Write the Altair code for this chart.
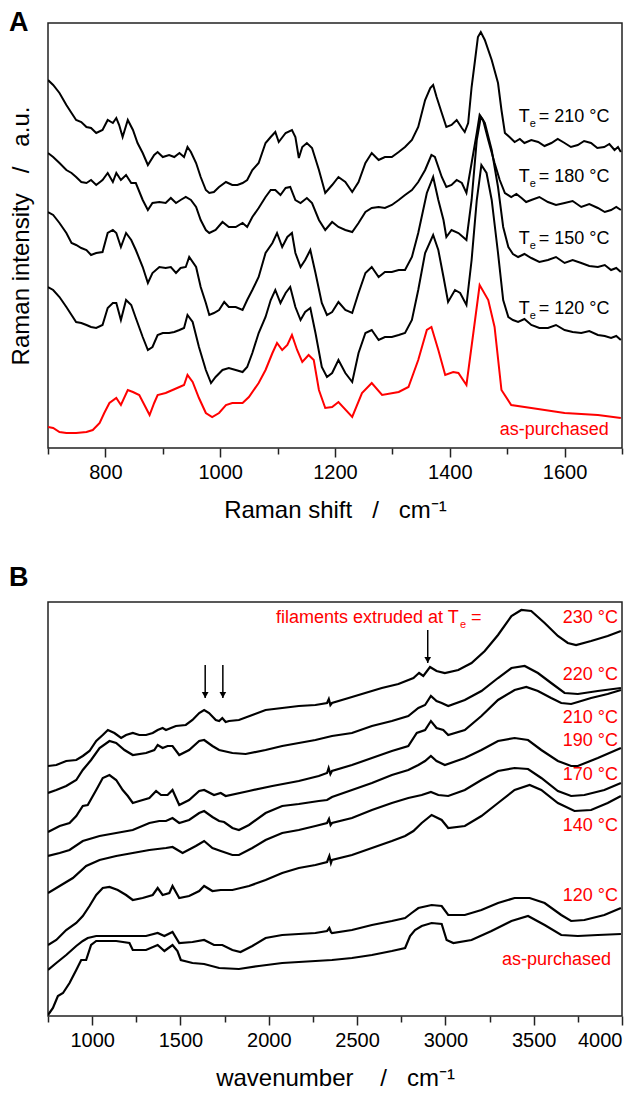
import altair as alt
import pandas as pd

FONT = "Liberation Sans"
RED = "#ff0000"

# ---------------- Panel A: Raman spectra (x = Raman shift, y = intensity a.u.) ----------------
raman_210 = [(700, 368), (709, 363), (720, 355), (732, 343), (741, 335), (749, 328), (758, 326), (767, 321),
             (775, 320), (784, 315), (795, 318), (804, 328), (813, 325), (819, 330), (824, 323), (830, 311),
             (839, 328), (848, 318), (856, 305), (865, 295), (874, 283), (885, 293), (891, 296), (900, 291),
             (911, 293), (920, 291), (929, 295), (937, 291), (943, 301), (949, 296), (958, 285), (966, 271),
             (975, 258), (981, 255), (989, 256), (998, 261), (1010, 266), (1021, 263), (1030, 263), (1039, 265),
             (1047, 268), (1056, 278), (1067, 285), (1079, 305), (1088, 311), (1096, 316), (1102, 306), (1114, 315),
             (1125, 318), (1131, 311), (1137, 290), (1143, 301), (1151, 305), (1160, 300), (1172, 278), (1183, 255),
             (1195, 263), (1206, 271), (1218, 266), (1230, 256), (1241, 266), (1253, 285), (1264, 295), (1276, 288),
             (1287, 291), (1299, 291), (1311, 296), (1322, 301), (1334, 308), (1345, 321), (1357, 348), (1366, 360),
             (1371, 363), (1377, 351), (1386, 335), (1394, 321), (1403, 323), (1412, 328), (1421, 320), (1426, 316),
             (1432, 325), (1438, 361), (1444, 388), (1449, 411), (1454, 416), (1461, 408), (1473, 388), (1484, 365),
             (1490, 338), (1496, 315), (1504, 311), (1513, 306), (1522, 309), (1530, 305), (1542, 308), (1554, 306),
             (1565, 302), (1577, 305), (1588, 309), (1600, 305), (1611, 301), (1623, 303), (1634, 307), (1646, 305),
             (1657, 300), (1669, 301), (1678, 304), (1687, 298), (1693, 301), (1698, 296)]
raman_180 = [(700, 295), (709, 291), (720, 285), (732, 278), (741, 275), (749, 271), (758, 266), (767, 265),
             (775, 268), (784, 263), (795, 268), (804, 275), (813, 266), (819, 275), (827, 268), (836, 273),
             (845, 265), (853, 265), (865, 248), (874, 238), (882, 245), (894, 246), (905, 245), (914, 250),
             (923, 245), (931, 248), (940, 251), (949, 248), (958, 241), (966, 228), (975, 218), (981, 215),
             (992, 218), (1004, 226), (1015, 221), (1027, 221), (1039, 225), (1047, 221), (1056, 231), (1067, 240),
             (1079, 251), (1088, 258), (1096, 258), (1105, 253), (1114, 260), (1122, 261), (1131, 248), (1140, 245),
             (1151, 250), (1160, 245), (1172, 228), (1183, 218), (1195, 226), (1206, 221), (1218, 218), (1230, 216),
             (1241, 225), (1253, 236), (1264, 240), (1276, 241), (1287, 240), (1299, 243), (1311, 248), (1322, 253),
             (1334, 258), (1345, 266), (1357, 278), (1368, 293), (1374, 291), (1386, 271), (1394, 261), (1403, 263),
             (1412, 268), (1421, 265), (1429, 255), (1438, 285), (1447, 315), (1452, 333), (1458, 328), (1467, 308),
             (1478, 285), (1487, 268), (1496, 255), (1507, 251), (1516, 254), (1525, 250), (1533, 246), (1542, 248),
             (1556, 251), (1571, 246), (1585, 243), (1600, 245), (1614, 247), (1629, 241), (1643, 244), (1658, 240),
             (1670, 236), (1681, 238), (1690, 241), (1698, 238)]
raman_150 = [(700, 236), (709, 233), (720, 225), (732, 215), (741, 205), (749, 203), (758, 200), (767, 198),
             (775, 193), (784, 195), (795, 196), (804, 215), (813, 218), (819, 215), (827, 201), (836, 215),
             (845, 208), (853, 198), (865, 181), (874, 165), (882, 175), (894, 181), (905, 180), (914, 181),
             (923, 175), (931, 180), (940, 181), (946, 191), (958, 181), (966, 161), (975, 145), (981, 133),
             (989, 135), (998, 138), (1007, 146), (1015, 141), (1027, 141), (1039, 138), (1047, 148), (1056, 158),
             (1067, 171), (1079, 195), (1091, 205), (1099, 215), (1108, 201), (1117, 211), (1125, 215), (1131, 195),
             (1140, 181), (1148, 188), (1157, 198), (1166, 175), (1177, 145), (1186, 133), (1195, 136), (1206, 146),
             (1218, 138), (1230, 135), (1241, 155), (1253, 175), (1264, 181), (1276, 171), (1287, 176), (1299, 176),
             (1311, 178), (1322, 178), (1334, 191), (1345, 215), (1360, 255), (1371, 271), (1380, 248), (1389, 228),
             (1394, 211), (1403, 218), (1415, 215), (1423, 211), (1429, 208), (1438, 248), (1447, 308), (1454, 331),
             (1461, 325), (1473, 298), (1484, 261), (1493, 221), (1502, 201), (1510, 194), (1519, 191), (1530, 194),
             (1542, 190), (1556, 186), (1571, 188), (1585, 191), (1600, 185), (1614, 188), (1629, 185), (1643, 182),
             (1658, 181), (1670, 183), (1681, 178), (1690, 180), (1698, 176)]
raman_120 = [(700, 161), (709, 158), (720, 151), (732, 141), (741, 133), (749, 126), (758, 125), (767, 123),
             (775, 121), (784, 120), (795, 123), (804, 140), (813, 145), (819, 145), (827, 128), (836, 148),
             (845, 143), (853, 130), (865, 111), (874, 98), (882, 101), (891, 113), (900, 115), (911, 115),
             (920, 116), (929, 118), (937, 120), (943, 133), (952, 126), (963, 101), (975, 78), (984, 65),
             (992, 71), (1004, 78), (1015, 80), (1027, 78), (1039, 76), (1047, 81), (1056, 95), (1067, 115),
             (1079, 131), (1088, 148), (1096, 158), (1105, 145), (1114, 155), (1122, 161), (1131, 141), (1140, 128),
             (1148, 136), (1157, 140), (1166, 115), (1177, 81), (1186, 71), (1195, 75), (1206, 88), (1218, 75),
             (1230, 66), (1241, 95), (1253, 115), (1264, 118), (1276, 108), (1287, 111), (1299, 111), (1311, 113),
             (1322, 115), (1334, 128), (1345, 158), (1357, 195), (1371, 213), (1380, 198), (1389, 171), (1397, 146),
             (1409, 158), (1418, 155), (1429, 143), (1438, 188), (1447, 248), (1455, 283), (1464, 275), (1473, 248),
             (1484, 195), (1493, 148), (1502, 131), (1510, 128), (1519, 126), (1530, 129), (1542, 123), (1556, 120),
             (1571, 120), (1585, 123), (1600, 118), (1614, 116), (1629, 115), (1643, 117), (1658, 113), (1670, 112),
             (1681, 110), (1690, 112), (1698, 108)]
raman_asp = [(700, 21), (709, 20), (720, 16), (732, 15), (749, 15), (767, 16), (778, 18), (790, 25), (798, 35),
             (807, 45), (819, 50), (827, 43), (839, 58), (848, 56), (859, 53), (868, 43), (877, 33), (885, 45),
             (891, 53), (905, 55), (917, 58), (929, 61), (937, 63), (943, 73), (952, 66), (963, 50), (975, 35),
             (986, 31), (998, 35), (1010, 43), (1021, 45), (1039, 45), (1050, 51), (1067, 65), (1079, 78),
             (1091, 95), (1099, 105), (1108, 98), (1117, 103), (1125, 113), (1134, 98), (1143, 86), (1154, 93),
             (1163, 88), (1172, 58), (1183, 40), (1195, 41), (1206, 46), (1230, 31), (1247, 55), (1264, 65),
             (1282, 53), (1311, 56), (1328, 61), (1345, 88), (1360, 118), (1368, 121), (1380, 98), (1392, 73),
             (1406, 76), (1415, 75), (1429, 63), (1441, 115), (1452, 163), (1467, 148), (1478, 121), (1490, 58),
             (1507, 43), (1542, 40), (1600, 35), (1658, 33), (1698, 30)]

raman_names = ["210", "180", "150", "120", "as-purchased"]
raman_colors = ["black", "black", "black", "black", RED]
raman_label_temps = ["210", "180", "150", "120"]
raman_label_y = [331, 271, 209, 139]

# ---------------- Panel B: IR spectra (x = wavenumber, y = absorbance a.u.) ----------------
ir_230 = [(750, 250), (797, 251), (853, 255), (910, 256), (947, 260), (985, 265), (1023, 275), (1060, 281),
          (1089, 286), (1126, 283), (1164, 278), (1192, 281), (1230, 283), (1267, 281), (1305, 281), (1343, 283),
          (1371, 286), (1399, 288), (1418, 286), (1446, 288), (1474, 290), (1530, 291), (1568, 296), (1606, 303),
          (1634, 306), (1662, 303), (1700, 296), (1719, 295), (1737, 298), (1756, 294), (1775, 295), (1831, 296),
          (1907, 301), (1982, 306), (2076, 308), (2170, 310), (2264, 311), (2330, 313), (2340, 317), (2349, 311),
          (2358, 313), (2452, 318), (2546, 323), (2640, 328), (2734, 332), (2819, 338), (2838, 341), (2851, 343),
          (2875, 340), (2913, 349), (2950, 345), (2997, 343), (3073, 346), (3148, 353), (3223, 365), (3298, 381),
          (3374, 400), (3430, 406), (3486, 405), (3562, 393), (3637, 380), (3693, 373), (3740, 371), (3825, 375),
          (3919, 380), (3994, 385)]
ir_220 = [(750, 223), (797, 226), (853, 230), (910, 236), (947, 246), (994, 256), (1042, 268), (1098, 275),
          (1136, 273), (1183, 266), (1230, 261), (1305, 263), (1352, 266), (1371, 271), (1399, 268), (1427, 270),
          (1455, 270), (1493, 261), (1549, 266), (1606, 275), (1634, 276), (1681, 270), (1719, 266), (1794, 263),
          (1869, 262), (1982, 266), (2076, 270), (2170, 273), (2264, 276), (2358, 280), (2471, 283), (2584, 290),
          (2697, 295), (2790, 300), (2847, 308), (2885, 311), (2918, 320), (2950, 315), (2979, 313), (3016, 310),
          (3110, 316), (3204, 325), (3298, 338), (3374, 348), (3449, 350), (3524, 343), (3599, 333), (3675, 323),
          (3750, 322), (3863, 325), (3994, 328)]
ir_210 = [(750, 184), (816, 190), (872, 193), (910, 200), (947, 210), (975, 211), (1023, 226), (1060, 238),
          (1098, 241), (1136, 236), (1173, 226), (1202, 220), (1230, 213), (1267, 215), (1324, 218), (1362, 225),
          (1390, 221), (1427, 221), (1455, 226), (1493, 211), (1549, 216), (1606, 225), (1634, 226), (1690, 221),
          (1728, 223), (1756, 220), (1888, 225), (2020, 230), (2170, 235), (2283, 240), (2330, 243), (2339, 248),
          (2349, 242), (2358, 245), (2471, 251), (2584, 258), (2697, 265), (2790, 270), (2838, 283), (2885, 286),
          (2918, 295), (2950, 288), (2988, 286), (3016, 281), (3110, 286), (3204, 300), (3298, 316), (3392, 326),
          (3458, 329), (3524, 325), (3599, 318), (3656, 313), (3712, 312), (3750, 314), (3825, 318), (3919, 322),
          (3994, 326)]
ir_190 = [(750, 160), (816, 163), (872, 166), (947, 175), (1042, 180), (1136, 183), (1230, 186), (1324, 193),
          (1380, 195), (1418, 195), (1455, 198), (1493, 193), (1549, 196), (1606, 203), (1634, 205), (1681, 199),
          (1719, 195), (1747, 194), (1794, 188), (1831, 186), (1888, 191), (1982, 203), (2076, 210), (2170, 212),
          (2283, 215), (2330, 216), (2358, 219), (2471, 226), (2584, 233), (2697, 241), (2790, 246), (2847, 251),
          (2885, 255), (2918, 260), (2950, 255), (2997, 251), (3110, 258), (3204, 266), (3298, 275), (3392, 278),
          (3468, 276), (3543, 266), (3637, 255), (3712, 250), (3750, 250), (3863, 258), (3994, 268)]
ir_170 = [(750, 123), (816, 130), (891, 138), (966, 150), (1042, 156), (1136, 160), (1230, 163), (1324, 166),
          (1418, 168), (1455, 169), (1512, 163), (1587, 170), (1634, 175), (1681, 168), (1728, 165), (1794, 161),
          (1831, 161), (1907, 168), (1982, 176), (2076, 183), (2170, 186), (2264, 190), (2330, 193), (2341, 197),
          (2350, 191), (2358, 193), (2471, 198), (2584, 206), (2697, 213), (2790, 218), (2866, 221), (2918, 224),
          (2960, 221), (3016, 220), (3110, 226), (3204, 236), (3298, 245), (3392, 248), (3468, 247), (3543, 238),
          (3637, 225), (3712, 220), (3787, 221), (3900, 226), (3994, 233)]
ir_140 = [(750, 71), (797, 76), (853, 86), (910, 93), (947, 100), (985, 110), (1023, 121), (1060, 128),
          (1098, 129), (1145, 126), (1192, 121), (1230, 116), (1286, 118), (1343, 121), (1371, 128), (1399, 121),
          (1437, 123), (1455, 130), (1493, 118), (1549, 120), (1606, 125), (1634, 130), (1681, 125), (1728, 126),
          (1794, 126), (1888, 130), (1982, 136), (2076, 143), (2170, 148), (2264, 151), (2330, 154), (2343, 160),
          (2352, 153), (2358, 156), (2471, 161), (2584, 168), (2697, 175), (2772, 180), (2819, 185), (2866, 193),
          (2922, 201), (2979, 196), (3016, 188), (3110, 190), (3204, 200), (3298, 213), (3392, 226), (3477, 231),
          (3543, 226), (3637, 213), (3731, 205), (3825, 206), (3919, 213), (3994, 220)]
ir_120 = [(750, 46), (797, 53), (853, 61), (910, 70), (947, 75), (975, 78), (1023, 80), (1136, 80), (1230, 80),
          (1305, 80), (1371, 83), (1409, 80), (1455, 84), (1493, 73), (1568, 74), (1634, 76), (1690, 71),
          (1737, 71), (1794, 66), (1840, 64), (1907, 70), (1982, 78), (2076, 81), (2170, 82), (2264, 83),
          (2330, 85), (2343, 88), (2352, 84), (2358, 83), (2471, 86), (2584, 91), (2697, 95), (2772, 98),
          (2809, 103), (2847, 108), (2922, 111), (2979, 110), (3016, 101), (3110, 101), (3204, 106), (3298, 113),
          (3392, 118), (3477, 118), (3562, 113), (3656, 101), (3712, 95), (3787, 96), (3900, 101), (3994, 108)]
ir_asp = [(750, 1), (778, 8), (806, 20), (835, 23), (872, 33), (910, 46), (938, 56), (966, 56), (994, 71),
          (1023, 75), (1136, 75), (1211, 73), (1230, 66), (1305, 66), (1371, 71), (1409, 65), (1455, 71),
          (1483, 65), (1502, 56), (1568, 53), (1634, 52), (1719, 48), (1831, 47), (1944, 50), (2076, 53),
          (2170, 54), (2264, 55), (2358, 56), (2471, 58), (2584, 61), (2697, 65), (2772, 68), (2800, 80),
          (2828, 86), (2866, 90), (2922, 93), (2979, 92), (3007, 76), (3045, 73), (3148, 76), (3261, 85),
          (3374, 95), (3468, 100), (3562, 91), (3656, 81), (3750, 80), (3863, 81), (3994, 82)]

ir_names = ["230", "220", "210", "190", "170", "140", "120", "as-purchased"]
ir_label_text = ["230 °C", "220 °C", "210 °C", "190 °C", "170 °C", "140 °C", "120 °C"]
ir_label_y = [398, 341, 298, 275, 241, 190, 120]

arrow_x = [1640, 1740, 2900]
arrow_top = [351, 351, 386]
arrow_tip = [318, 318, 353]


def to_df(pairs, name):
    return pd.DataFrame(pairs, columns=["x", "y"]).assign(series=name)


raman_df = pd.concat([to_df(p, n) for p, n in zip(
    [raman_210, raman_180, raman_150, raman_120, raman_asp], raman_names)], ignore_index=True)
ir_df = pd.concat([to_df(p, n) for p, n in zip(
    [ir_230, ir_220, ir_210, ir_190, ir_170, ir_140, ir_120, ir_asp], ir_names)], ignore_index=True)

NB = "\u00a0"
W = 574
HA = 425
HB = 414

axis_common = dict(domain=False, grid=False, tickColor="#222", tickWidth=1.5,
                   labelFont=FONT, labelFontSize=20, labelColor="black", labelPadding=5,
                   titleFont=FONT, titleFontSize=24, titleFontWeight="normal", titleColor="black",
                   titlePadding=16)

xA = alt.X("x:Q", scale=alt.Scale(domain=[700, 1700], nice=False, zero=False),
           axis=alt.Axis(values=list(range(700, 1701, 100)), format="d",
                         labelExpr="(datum.value % 200 == 0 && datum.value > 700 && datum.value < 1700) ? datum.label : ''",
                         tickSize={"condition": {"test": "datum.value % 200 == 0", "value": 9}, "value": 6},
                         title=f"Raman shift{NB*3}/{NB*3}cm⁻¹", **axis_common))
yA = alt.Y("y:Q", scale=alt.Scale(domain=[0, HA], nice=False, zero=False),
           axis=alt.Axis(labels=False, ticks=False, domain=False, grid=False,
                         title=f"Raman intensity{NB*3}/{NB*3}a.u.", titleFont=FONT, titleFontSize=24,
                         titleFontWeight="normal", titleColor="black", titlePadding=15))

lines_a = alt.Chart(raman_df).mark_line(strokeWidth=2, clip=True).encode(
    x=xA, y=yA,
    color=alt.Color("series:N", scale=alt.Scale(domain=raman_names, range=raman_colors), legend=None),
    detail="series:N")

lab_a = pd.DataFrame({"temp": raman_label_temps, "y": raman_label_y})
lab_a["x"] = 1520
lab_a["rest"] = "= " + lab_a["temp"] + " °C"
t_a = alt.Chart(lab_a).mark_text(text="T", align="left", baseline="middle", font=FONT, fontSize=18,
                                 color="black").encode(x=xA, y=yA)
e_a = alt.Chart(lab_a).mark_text(text="e", align="left", baseline="middle", font=FONT, fontSize=11,
                                 dx=11, dy=7, color="black").encode(x=xA, y=yA)
r_a = alt.Chart(lab_a).mark_text(align="left", baseline="middle", font=FONT, fontSize=18, dx=20,
                                 color="black").encode(x=xA, y=yA, text="rest:N")
asp_a = alt.Chart(pd.DataFrame({"x": [1677], "y": [18], "t": ["as-purchased"]})).mark_text(
    align="right", baseline="middle", font=FONT, fontSize=18, color=RED).encode(x=xA, y=yA, text="t:N")
letter_a = alt.Chart(pd.DataFrame({"t": ["A"]})).mark_text(
    align="left", baseline="top", font=FONT, fontSize=27, fontWeight="bold", color="black").encode(
    x=alt.value(-39), y=alt.value(-13), text="t:N")

panel_a = alt.layer(lines_a, t_a, e_a, r_a, asp_a, letter_a).properties(width=W, height=HA)

xB = alt.X("x:Q", scale=alt.Scale(domain=[750, 4000], nice=False, zero=False),
           axis=alt.Axis(values=list(range(750, 4001, 250)), format="d",
                         labelExpr="datum.value % 500 == 0 ? datum.label : ''",
                         tickSize={"condition": {"test": "datum.value % 500 == 0", "value": 9}, "value": 6},
                         title=f"wavenumber{NB*4}/{NB*3}cm⁻¹", **axis_common))
yB = alt.Y("y:Q", scale=alt.Scale(domain=[0, HB], nice=False, zero=False),
           axis=alt.Axis(labels=False, ticks=False, domain=False, grid=False,
                         title=f"absorbance{NB*3}/{NB*3}a.u.", titleFont=FONT, titleFontSize=24,
                         titleFontWeight="normal", titleColor="black", titlePadding=15))

lines_b = alt.Chart(ir_df).mark_line(strokeWidth=2.2, color="black", clip=True).encode(
    x=xB, y=yB, detail="series:N")

lab_b = pd.DataFrame({"t": ir_label_text, "y": ir_label_y})
lab_b["x"] = 3977
labels_b = alt.Chart(lab_b).mark_text(align="right", baseline="middle", font=FONT, fontSize=18,
                                      color=RED).encode(x=xB, y=yB, text="t:N")
asp_b = alt.Chart(pd.DataFrame({"x": [3938], "y": [56], "t": ["as-purchased"]})).mark_text(
    align="right", baseline="middle", font=FONT, fontSize=18, color=RED).encode(x=xB, y=yB, text="t:N")
fil = pd.DataFrame({"x": [2041], "y": [398]})
fil_t = alt.Chart(fil).mark_text(text="filaments extruded at T", align="left", baseline="middle", font=FONT,
                                 fontSize=18, color=RED).encode(x=xB, y=yB)
fil_e = alt.Chart(fil).mark_text(text="e", align="left", baseline="middle", font=FONT, fontSize=11,
                                 dx=184, dy=7, color=RED).encode(x=xB, y=yB)
fil_eq = alt.Chart(fil).mark_text(text="=", align="left", baseline="middle", font=FONT, fontSize=18,
                                  dx=195, color=RED).encode(x=xB, y=yB)

arr = pd.DataFrame({"x": arrow_x, "y": arrow_top, "y2": arrow_tip})
arr_line = alt.Chart(arr).mark_rule(color="black", strokeWidth=1.5).encode(
    x=xB, y=yB, y2=alt.Y2("y2:Q"))
arr_head = alt.Chart(arr).mark_point(shape="triangle-down", filled=True, color="black", size=45, opacity=1,
                                     yOffset=-3).encode(x=xB, y=alt.Y("y2:Q", scale=alt.Scale(domain=[0, HB], nice=False, zero=False), axis=None))
letter_b = alt.Chart(pd.DataFrame({"t": ["B"]})).mark_text(
    align="left", baseline="top", font=FONT, fontSize=27, fontWeight="bold", color="black").encode(
    x=alt.value(-39), y=alt.value(-37), text="t:N")

panel_b = alt.layer(lines_b, labels_b, asp_b, fil_t, fil_e, fil_eq, arr_line, arr_head, letter_b).properties(
    width=W, height=HB)

chart = alt.vconcat(panel_a, panel_b, spacing=40).properties(
    padding={"left": 0, "top": 0, "right": 0, "bottom": 0}, background="white"
).configure_view(stroke="#222", strokeWidth=1.5)

chart.save("out.html", embed_options={"renderer": "svg", "actions": False})
